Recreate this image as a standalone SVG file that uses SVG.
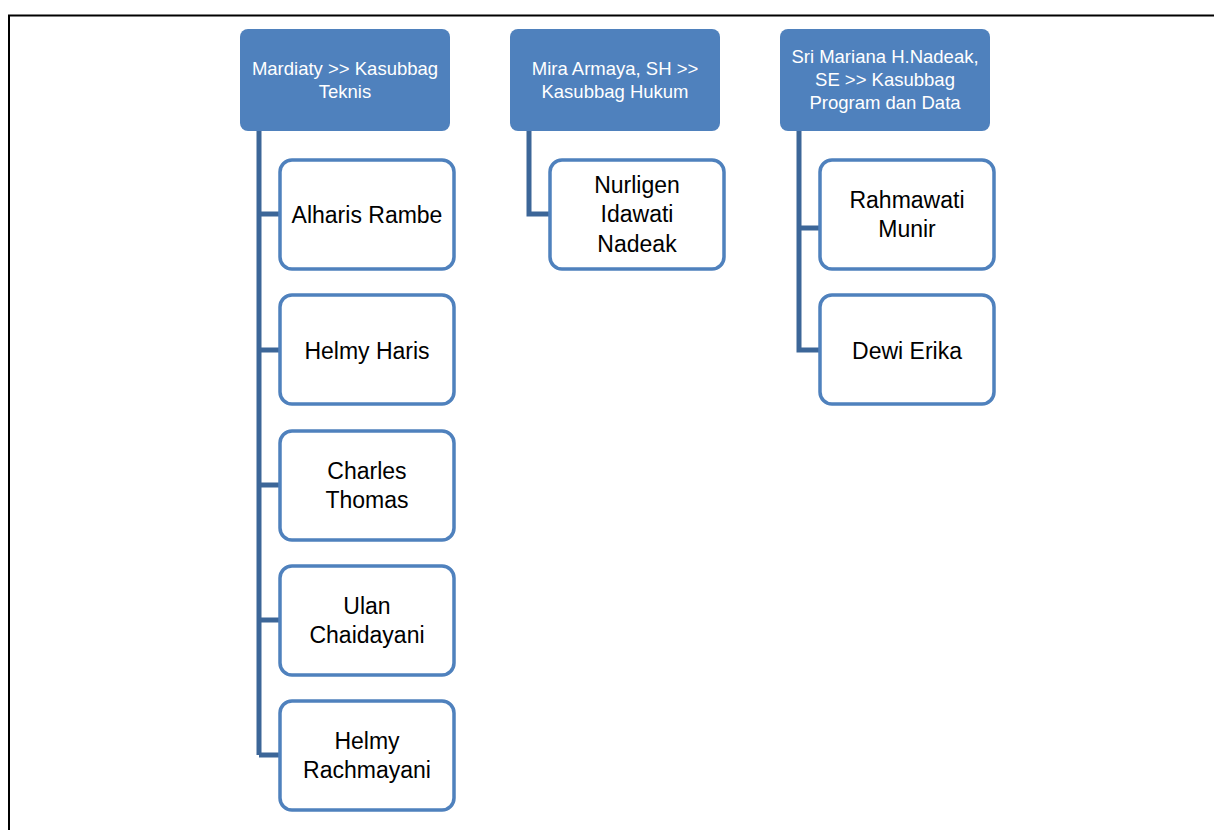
<svg xmlns="http://www.w3.org/2000/svg" width="1214" height="830" viewBox="0 0 1214 830">
<style>
.hdr{fill:#4f81bd;}
.hdt{fill:#ffffff;font-family:"Liberation Sans",Arial,sans-serif;font-size:18.5px;text-anchor:middle;}
.box{fill:#ffffff;stroke:#4f81bd;stroke-width:3.5;}
.bt{fill:#000000;font-family:"Liberation Sans",Arial,sans-serif;font-size:23px;text-anchor:middle;}
.con{fill:none;stroke:#3c6698;stroke-width:5;}
</style>
<rect x="0" y="0" width="1214" height="830" fill="#ffffff"/>
<path d="M9 830 V15.5 H1214" fill="none" stroke="#000" stroke-width="2"/>
<g id="connectors">
<path class="con" d="M259 131 V755 M259 214 H280 M259 350 H280 M259 485 H280 M259 620 H280 M259 755 H280"/>
<path class="con" d="M529 131 V214 H550"/>
<path class="con" d="M799 131 V350 H820 M799 228 H820"/>
</g>
<g id="h1"><rect class="hdr" x="240" y="29" width="210" height="102" rx="8"/>
<text class="hdt" x="345" y="75">Mardiaty &gt;&gt; Kasubbag</text><text class="hdt" x="345" y="98">Teknis</text></g>
<g id="h2"><rect class="hdr" x="510" y="29" width="210" height="102" rx="8"/>
<text class="hdt" x="615" y="75">Mira Armaya, SH &gt;&gt;</text><text class="hdt" x="615" y="98">Kasubbag Hukum</text></g>
<g id="h3"><rect class="hdr" x="780" y="29" width="210" height="102" rx="8"/>
<text class="hdt" x="885" y="63">Sri Mariana H.Nadeak,</text><text class="hdt" x="885" y="86">SE &gt;&gt; Kasubbag</text><text class="hdt" x="885" y="109">Program dan Data</text></g>
<g id="c1"><rect class="box" x="280" y="160" width="174" height="109" rx="12"/><text class="bt" x="367" y="223">Alharis Rambe</text></g>
<g id="c2"><rect class="box" x="280" y="295" width="174" height="109" rx="12"/><text class="bt" x="367" y="359">Helmy Haris</text></g>
<g id="c3"><rect class="box" x="280" y="431" width="174" height="109" rx="12"/><text class="bt" x="367" y="479">Charles</text><text class="bt" x="367" y="508">Thomas</text></g>
<g id="c4"><rect class="box" x="280" y="566" width="174" height="109" rx="12"/><text class="bt" x="367" y="614">Ulan</text><text class="bt" x="367" y="643">Chaidayani</text></g>
<g id="c5"><rect class="box" x="280" y="701" width="174" height="109" rx="12"/><text class="bt" x="367" y="749">Helmy</text><text class="bt" x="367" y="778">Rachmayani</text></g>
<g id="c6"><rect class="box" x="550" y="160" width="174" height="109" rx="12"/><text class="bt" x="637" y="193">Nurligen</text><text class="bt" x="637" y="222">Idawati</text><text class="bt" x="637" y="252">Nadeak</text></g>
<g id="c7"><rect class="box" x="820" y="160" width="174" height="109" rx="12"/><text class="bt" x="907" y="208">Rahmawati</text><text class="bt" x="907" y="237">Munir</text></g>
<g id="c8"><rect class="box" x="820" y="295" width="174" height="109" rx="12"/><text class="bt" x="907" y="359">Dewi Erika</text></g>
</svg>
